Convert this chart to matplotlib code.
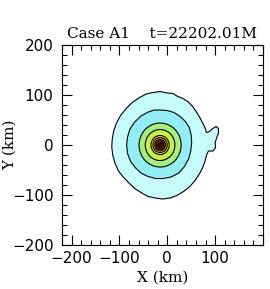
import matplotlib
matplotlib.use('Agg')
import matplotlib.pyplot as plt
from matplotlib.patches import Polygon, Circle
from matplotlib.ticker import MultipleLocator
import numpy as np

# outer contour outline (km)
outer_x = [-15, 0, 12, 22, 33, 44, 53, 61, 68, 74, 79, 82, 88, 95, 102, 107, 107, 103,
           100, 101, 95, 86, 82, 79, 74, 67, 58, 47, 34, 20, 6, -10, -25, -40, -55, -68,
           -80, -92, -102, -109, -114, -116, -115, -112, -106, -97, -85, -72, -58, -44, -30]
outer_y = [107, 104, 103, 97, 93, 86, 77, 66, 55, 44, 34, 25, 27, 33, 37, 33, 24, 14,
           4, -5, -12, -12, -20, -32, -45, -58, -71, -83, -93, -101, -106, -108, -106, -103, -95, -87,
           -76, -64, -52, -37, -20, -4, 12, 28, 44, 60, 74, 86, 95, 102, 105]

# second contour outline (km)
second_x = [-15, 0, 14, 27, 38, 46, 50, 51, 49, 45, 36, 24, 8, -8, -24, -40, -55, -67,
            -77, -83, -85, -83, -78, -68, -55, -40, -27]
second_y = [70, 69, 65, 57, 47, 35, 20, 5, -12, -27, -43, -56, -64, -67, -67, -63, -56, -45,
            -32, -17, 0, 16, 32, 46, 58, 66, 70]

# inner, nearly circular contours around the core
core_x, core_y = -15.0, 0.0
inner_radii = [44, 31, 19, 15, 11, 7.5, 4.5, 1.8]

fill_colors = ['#c6fcfc', '#92eef4', '#a6ee80', '#c8f040', '#f4f020',
               '#d89a20', '#a83a10', '#d82020', '#600000']

fig = plt.figure(figsize=(2.70, 2.89), dpi=100)
ax = fig.add_axes([0.2296, 0.1522, 0.7444, 0.692])

ax.add_patch(Polygon(np.column_stack([outer_x, outer_y]), closed=True,
                     facecolor=fill_colors[0], edgecolor='black', lw=0.8))
ax.add_patch(Polygon(np.column_stack([second_x, second_y]), closed=True,
                     facecolor=fill_colors[1], edgecolor='black', lw=0.8))
for r, c in zip(inner_radii, fill_colors[2:]):
    ax.add_patch(Circle((core_x, core_y), r, facecolor=c, edgecolor='black', lw=0.8))

ax.set_xlim(-220, 200)
ax.set_ylim(-200, 200)
ax.xaxis.set_minor_locator(MultipleLocator(20))
ax.yaxis.set_minor_locator(MultipleLocator(20))
ax.set_xticks([-200, -100, 0, 100, 200])
ax.set_xticklabels(['\u2212200', '\u2212100', '0', '100', ''])
ax.set_yticks([-200, -100, 0, 100, 200])
ax.set_yticklabels(['\u2212200', '\u2212100', '0', '100', '200'])
ax.tick_params(which='both', direction='in', top=True, right=True, labelsize=11, width=0.8)
ax.tick_params(which='major', length=7)
ax.tick_params(axis='y', which='major', pad=6)
ax.tick_params(axis='x', which='major', pad=4)
ax.tick_params(which='minor', length=3.5)
for s in ax.spines.values():
    s.set_linewidth(0.8)

ax.set_title('Case A1    t=22202.01M', family='DejaVu Serif', fontsize=11, pad=5)
ax.set_xlabel('X (km)', family='DejaVu Serif', fontsize=11, labelpad=4)
ax.set_ylabel('Y (km)', family='DejaVu Serif', fontsize=11)
ax.yaxis.set_label_coords(-0.225, 0.5)

fig.savefig('out.png', dpi=100)
